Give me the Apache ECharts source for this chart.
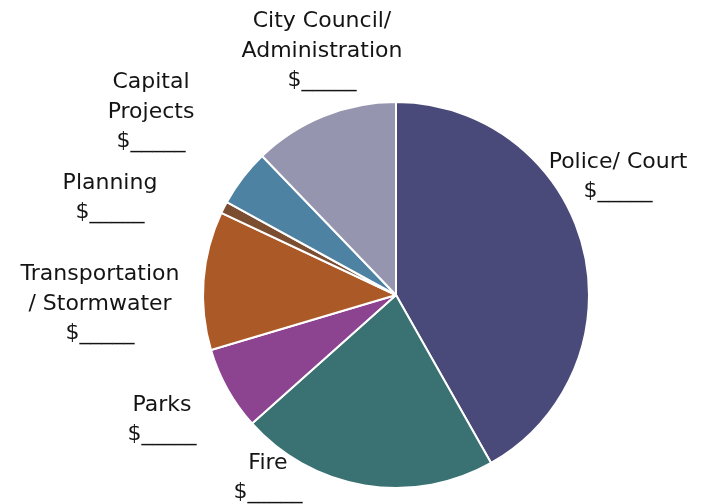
<!DOCTYPE html>
<html>
<head>
<meta charset="utf-8">
<script src="https://cdn.jsdelivr.net/npm/echarts@6/dist/echarts.min.js"></script>
<style>
  html, body { margin: 0; padding: 0; background: #ffffff; }
  #chart { width: 702px; height: 504px; }
</style>
</head>
<body>
<div id="chart"></div>
<script>
// Budget shares by department (percent of total)
const departments = [
  'Police/ Court',
  'Fire',
  'Parks',
  'Transportation\n/ Stormwater',
  'Planning',
  'Capital\nProjects',
  'City Council/\nAdministration'
];
const shares = [41.8, 21.6, 7.0, 11.6, 1.0, 4.8, 12.2];
const amountLabel = '$_____';

// Slice colours and label anchor points (canvas px)
const sliceColors = ['#4a4a7a', '#3a7273', '#8c4390', '#ab5a27', '#7b4d31', '#4e82a3', '#9595b0'];
const labelAnchors = [
  [618, 177], [268, 478], [162, 420], [100, 304], [110, 198], [151, 112], [322, 51]
];

const chart = echarts.init(document.getElementById('chart'), null, { renderer: 'canvas' });

chart.setOption({
  backgroundColor: '#ffffff',
  animation: false,
  series: [{
    type: 'pie',
    center: [396, 295],
    radius: [0, 193],
    startAngle: 90,
    clockwise: true,
    avoidLabelOverlap: false,
    data: departments.map((name, i) => ({
      name: name,
      value: shares[i],
      itemStyle: { color: sliceColors[i] }
    })),
    itemStyle: { borderColor: '#ffffff', borderWidth: 2 },
    label: {
      show: true,
      position: 'outside',
      formatter: p => p.name + '\n' + amountLabel,
      fontFamily: 'DejaVu Sans',
      fontSize: 22,
      lineHeight: 29.5,
      color: '#141414',
      align: 'center'
    },
    labelLine: { show: false },
    labelLayout: p => ({
      x: labelAnchors[p.dataIndex][0],
      y: labelAnchors[p.dataIndex][1],
      align: 'center',
      verticalAlign: 'middle'
    }),
    emphasis: { disabled: true }
  }]
});
</script>
</body>
</html>
